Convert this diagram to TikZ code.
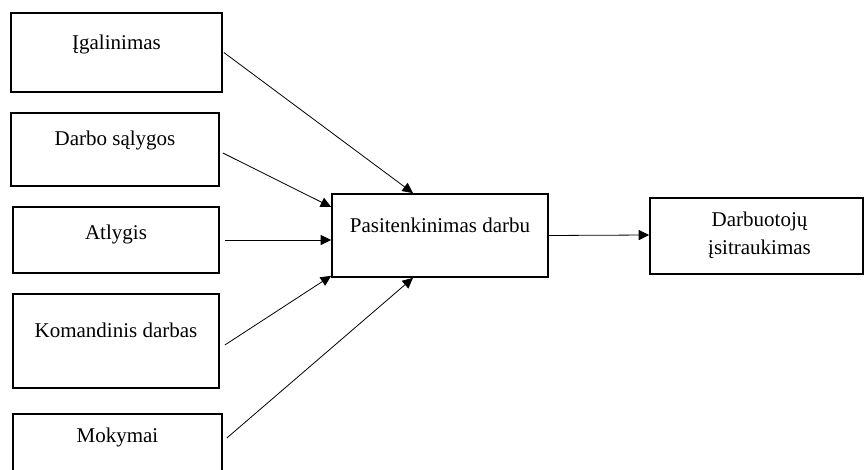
\documentclass[tikz,border=0pt]{standalone}
\usepackage{fontspec}
\setmainfont{Liberation Serif}
\usetikzlibrary{arrows.meta}
\begin{document}
\begin{tikzpicture}[x=1pt,y=-1pt,
  box/.style={draw=black,line width=1.7pt,fill=white,inner sep=0pt},
  lbl/.style={inner sep=0pt,anchor=base,font=\fontsize{21}{28}\selectfont},
  link/.style={draw=black,line width=0.8pt,-{Triangle[length=10.5pt,width=10pt]}}]
\useasboundingbox (0,0) rectangle (865,470);
\clip (0,0) rectangle (865,470);
\fill[white] (0,0) rectangle (865,470);

% factor boxes on the left
\node[box,minimum width=211pt,minimum height=79pt] (b1) at (116.5,52.5) {};
\node[box,minimum width=208pt,minimum height=73pt] (b2) at (115,149.5) {};
\node[box,minimum width=206pt,minimum height=66pt] (b3) at (116,240) {};
\node[box,minimum width=206pt,minimum height=94pt] (b4) at (116,341) {};
\node[box,minimum width=209pt,minimum height=80pt] (b5) at (117.5,454) {};

\node[lbl] (t1) at ([yshift=-37pt]b1.north) {Įgalinimas};
\node[lbl] (t2) at ([yshift=-33pt]b2.north) {Darbo sąlygos};
\node[lbl] (t3) at ([yshift=-33pt]b3.north) {Atlygis};
\node[lbl] (t4) at ([yshift=-44pt]b4.north) {Komandinis darbas};
\node[lbl] (t5) at ([yshift=-29pt]b5.north) {Mokymai};

% mediator and outcome
\node[box,minimum width=216pt,minimum height=83pt] (sat) at (440,235.5) {};
\node[lbl] (ts) at ([yshift=-39pt]sat.north) {Pasitenkinimas darbu};

\node[box,minimum width=213pt,minimum height=76pt] (eng) at (756.5,236) {};
\node[lbl] (te1) at ([xshift=3pt,yshift=-29pt]eng.north) {Darbuotojų};
\node[lbl] (te2) at ([xshift=3pt,yshift=-57pt]eng.north) {įsitraukimas};

% connectors
\coordinate (s1) at ([xshift=1pt]b1.east);
\coordinate (s2) at ([xshift=3pt,yshift=-3.5pt]b2.east);
\coordinate (s3) at ([xshift=5pt]b3.east);
\coordinate (s4) at ([xshift=5pt,yshift=-4pt]b4.east);
\coordinate (s5) at ([xshift=4pt,yshift=16pt]b5.east);

\draw[link] (s1) -- ([xshift=-27pt]sat.north);
\draw[link] (s2) -- ([yshift=28.5pt]sat.west);
\draw[link] (s3) -- ([yshift=-4.5pt]sat.west);
\draw[link] (s4) -- ([yshift=2pt]sat.south west);
\draw[link] (s5) -- ([xshift=-27pt]sat.south);
\draw[link] (sat.east) -- ([yshift=1pt]eng.west);
\end{tikzpicture}
\end{document}
